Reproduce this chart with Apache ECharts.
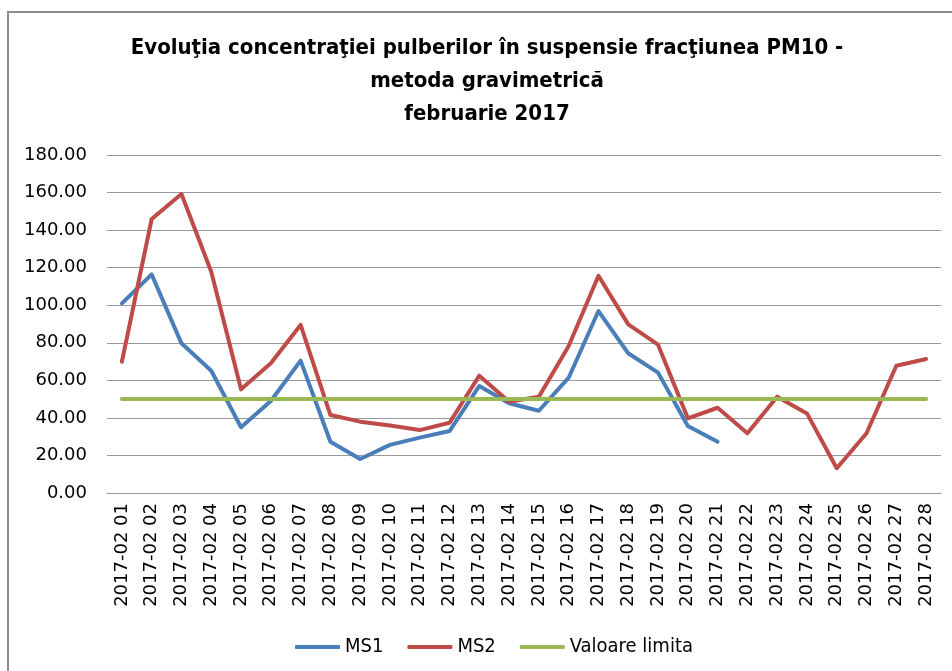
<!DOCTYPE html>
<html>
<head>
<meta charset="utf-8">
<script src="https://cdn.jsdelivr.net/npm/echarts@6/dist/echarts.min.js"></script>
<style>
html,body{margin:0;padding:0;background:#fff;}
#chart{width:952px;height:671px;}
</style>
</head>
<body>
<div id="chart"></div>
<script>
var categories = ['2017-02 01','2017-02 02','2017-02 03','2017-02 04','2017-02 05','2017-02 06','2017-02 07','2017-02 08','2017-02 09','2017-02 10','2017-02 11','2017-02 12','2017-02 13','2017-02 14','2017-02 15','2017-02 16','2017-02 17','2017-02 18','2017-02 19','2017-02 20','2017-02 21','2017-02 22','2017-02 23','2017-02 24','2017-02 25','2017-02 26','2017-02 27','2017-02 28'];
var ms1 = [101.0,116.4,79.7,65.1,35.0,49.0,70.5,27.3,18.1,25.6,29.5,33.0,57.0,47.8,43.8,61.4,96.9,74.4,64.1,35.7,27.3,null,null,null,null,null,null,null];
var ms2 = [69.9,145.9,159.2,117.8,55.2,69.1,89.5,41.5,38.0,35.9,33.5,37.4,62.5,48.6,51.3,78.3,115.7,89.8,79.0,39.8,45.4,31.8,51.3,42.4,13.2,31.8,67.8,71.4];
var limit = [50,50,50,50,50,50,50,50,50,50,50,50,50,50,50,50,50,50,50,50,50,50,50,50,50,50,50,50];
var seriesNames = ['MS1','MS2','Valoare limita'];
var titleLines = ['Evoluţia concentraţiei pulberilor în suspensie fracţiunea PM10 -','metoda gravimetrică','februarie 2017'];

var chart = echarts.init(document.getElementById('chart'));
var condensed = '"Liberation Sans Narrow","DejaVu Sans Condensed","Open Sans",sans-serif';
chart.setOption({
  animation: false,
  backgroundColor: '#ffffff',
  graphic: [
    {type:'rect', shape:{x:8,y:12,width:1000,height:700}, style:{fill:'none', stroke:'#8c8c8c', lineWidth:2}, silent:true},
    {type:'text', x:487, y:81, style:{text: titleLines.join('\n'), textAlign:'center', textVerticalAlign:'middle', font:'bold 22px ' + condensed, lineHeight:33, fill:'#000'}}
  ],
  grid: {left:107, right:11, top:155, bottom:178, containLabel:false},
  legend: {
    data: seriesNames, left: 290, top: 632, itemWidth: 45, itemHeight: 4, itemGap: 24,
    icon: 'roundRect',
    textStyle: {fontFamily: condensed, fontSize: 20, color: '#000'}
  },
  xAxis: {
    type: 'category', data: categories, boundaryGap: true,
    axisLine: {show:true, lineStyle:{color:'#999', width:1}},
    axisTick: {show:false},
    axisLabel: {rotate: 90, interval: 0, margin: 10, fontFamily: '"DejaVu Sans"', fontSize: 18, color: '#000'}
  },
  yAxis: {
    type: 'value', min: 0, max: 180, interval: 20,
    axisLine: {show:false}, axisTick: {show:false},
    splitLine: {lineStyle:{color:'#999', width:1}},
    axisLabel: {margin: 20, fontFamily: '"DejaVu Sans"', fontSize: 18, color: '#000', formatter: function(v){return v.toFixed(2);}}
  },
  series: [
    {name:'MS1', type:'line', data: ms1, symbol:'none', connectNulls:false, lineStyle:{width:4, color:'#4a7ebb', join:'round', cap:'round'}, itemStyle:{color:'#4a7ebb'}},
    {name:'MS2', type:'line', data: ms2, symbol:'none', lineStyle:{width:4, color:'#be4b48', join:'round', cap:'round'}, itemStyle:{color:'#be4b48'}},
    {name:'Valoare limita', type:'line', data: limit, symbol:'none', lineStyle:{width:4, color:'#98b954', cap:'round'}, itemStyle:{color:'#98b954'}}
  ]
});
</script>
</body>
</html>
